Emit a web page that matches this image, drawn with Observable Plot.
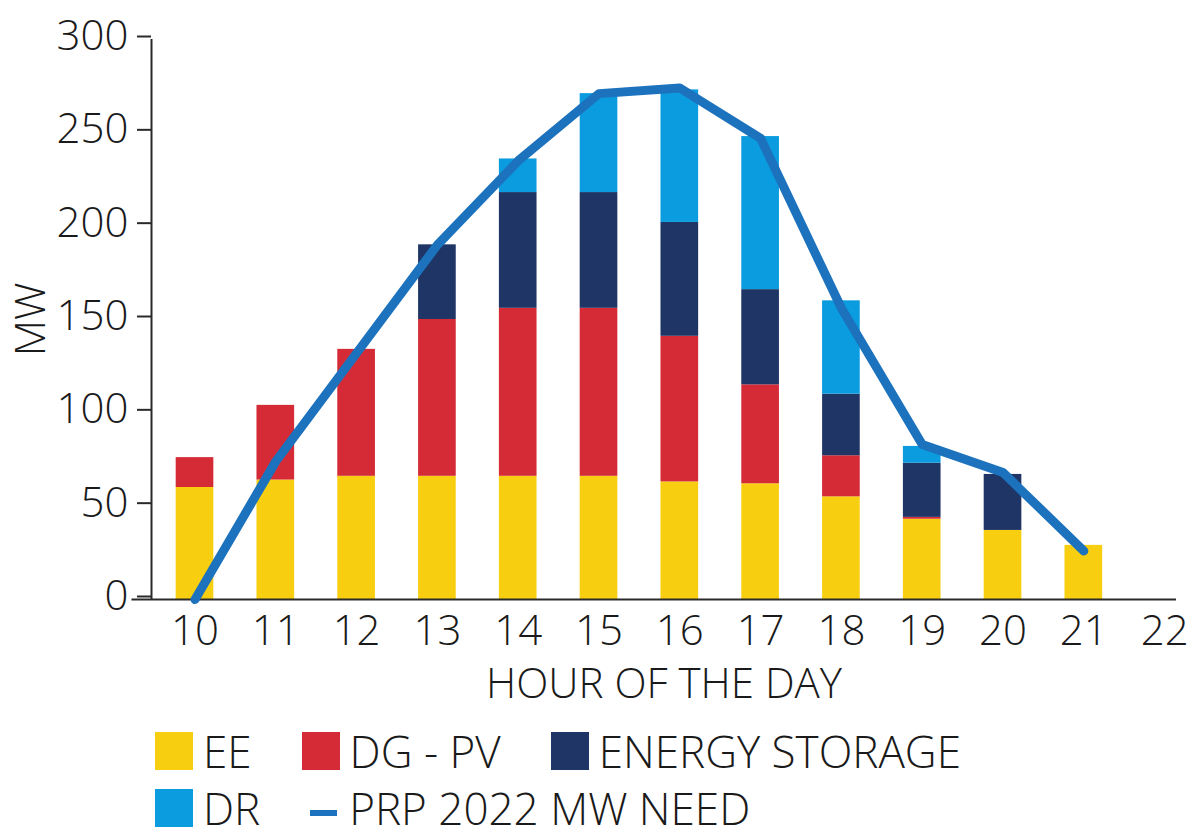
<!DOCTYPE html>
<html>
<head>
<meta charset="utf-8">
<script src="https://cdn.jsdelivr.net/npm/d3@7"></script>
<script src="https://cdn.jsdelivr.net/npm/@observablehq/plot@0.6"></script>
<style>
  body { margin: 0; background: #fff; font-family: "Open Sans", sans-serif; font-weight: 300; color: #1a1a1a; }
  #wrap { position: relative; width: 1189px; height: 831px; overflow: hidden; }
  #legend { position: absolute; left: 155px; top: 732px; width: 830px; display: flex; flex-wrap: wrap; column-gap: 50px; row-gap: 19px; }
  .item { display: flex; align-items: center; height: 38px; }
  .sw { width: 38px; height: 38px; margin-right: 10px; }
  .sw.dash { width: 27px; height: 6px; margin-right: 12px; margin-top: 9px; }
  .lbl { font-size: 44px; line-height: 1; white-space: nowrap; }
</style>
</head>
<body>
<div id="wrap">
  <div id="chart"></div>
  <div id="legend"></div>
</div>
<script>
// Hours of the day with a stacked bar each
const hours = [10, 11, 12, 13, 14, 15, 16, 17, 18, 19, 20, 21];
const hourTicks = [10, 11, 12, 13, 14, 15, 16, 17, 18, 19, 20, 21, 22];
const mwTicks = [0, 50, 100, 150, 200, 250, 300];

// MW contributed by each resource, per hour
const ee      = [60, 64, 66, 66, 66, 66, 63, 62, 55, 43, 37, 29];
const dgPv    = [16, 40, 68, 84, 90, 90, 78, 53, 22, 1, 0, 0];
const storage = [0, 0, 0, 40, 62, 62, 61, 51, 33, 29, 30, 0];
const dr      = [0, 0, 0, 0, 18, 53, 71, 82, 50, 9, 0, 0];

// PRP 2022 MW need curve
const need = [0, 74, 132, 190, 235, 271, 274, 247, 156, 83, 68, 26];

const sources = ["EE", "DG - PV", "ENERGY STORAGE", "DR"];
const sourceColors = ["#f8ce10", "#d42b37", "#1f3566", "#0b9cdf"];
const needLabel = "PRP 2022 MW NEED";
const needColor = "#1c72bd";

const seriesBySource = [ee, dgPv, storage, dr];
const rows = hours.flatMap((h, i) =>
  sources.map((s, k) => ({hour: h, source: s, value: seriesBySource[k][i]}))
);
const needRows = hours.map((h, i) => ({hour: h, mw: need[i]}));

const barHalf = 0.233;            // half bar width, in hours
const xDomain = [9.4616, 22.147]; // y axis sits at the left edge
const baselineStart = 9.22;       // x axis line runs a little past the y axis

const {x: _groupX, ...stacked} = Plot.stackY({x: "hour", y: "value", z: "source", order: sources});

const ink = "#1a1a1a";
const chart = Plot.plot({
  width: 1189,
  height: 716,
  marginTop: 39,
  marginBottom: 117,
  marginLeft: 151,
  marginRight: 13,
  style: {fontFamily: '"Open Sans", sans-serif', fontWeight: 300, color: ink, background: "#fff", overflow: "visible"},
  x: {type: "linear", domain: xDomain},
  y: {domain: [0, 300]},
  color: {domain: sources, range: sourceColors},
  marks: [
    Plot.rect(rows, {
      ...stacked,
      x1: d => d.hour - barHalf,
      x2: d => d.hour + barHalf,
      fill: "source"
    }),
    Plot.ruleY([0], {x1: baselineStart, x2: xDomain[1], stroke: "#2a2a2a", strokeWidth: 2}),
    Plot.ruleX([xDomain[0]], {y1: 0, y2: 300, stroke: "#2a2a2a", strokeWidth: 2}),
    Plot.line(needRows, {
      x: "hour", y: "mw", stroke: needColor, strokeWidth: 9,
      strokeLinecap: "round", strokeLinejoin: "round"
    }),
    Plot.axisY({
      ticks: mwTicks, tickSize: 14, tickPadding: 9, fontSize: 42, dy: -3,
      stroke: "#2a2a2a", strokeWidth: 2,
      label: "MW", labelAnchor: "center", labelOffset: 136, labelArrow: "none"
    }),
    Plot.axisX({
      ticks: hourTicks, tickSize: 0, tickPadding: 16, fontSize: 42, tickFormat: d => String(d),
      label: "HOUR OF THE DAY", labelAnchor: "center", labelOffset: 98, labelArrow: "none"
    })
  ]
});
document.getElementById("chart").appendChild(chart);

// Legend below the chart
const legend = document.getElementById("legend");
const items = sources.map((s, k) => ({label: s, color: sourceColors[k], dash: false}))
  .concat([{label: needLabel, color: needColor, dash: true}]);
for (const it of items) {
  const el = document.createElement("div");
  el.className = "item";
  const sw = document.createElement("span");
  sw.className = it.dash ? "sw dash" : "sw";
  sw.style.background = it.color;
  const lb = document.createElement("span");
  lb.className = "lbl";
  lb.textContent = it.label;
  el.append(sw, lb);
  legend.appendChild(el);
}
</script>
</body>
</html>
